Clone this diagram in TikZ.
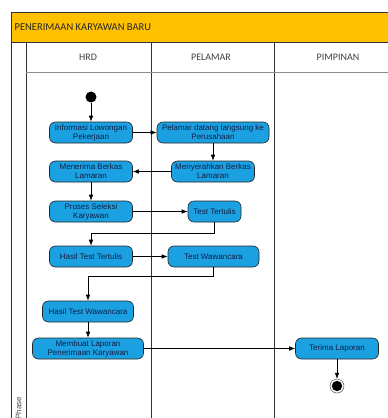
\documentclass[tikz,border=0pt]{standalone}
\usepackage{fontspec}
\setmainfont{Liberation Sans}
\newfontfamily\hdrfont{Carlito}
\usetikzlibrary{arrows,arrows.meta,positioning}
\definecolor{bandorange}{RGB}{255,192,0}
\definecolor{actblue}{RGB}{27,161,226}
\definecolor{actnavy}{RGB}{18,30,68}

\begin{document}
\begin{tikzpicture}[->,>={Latex[length=6pt,width=4.5pt]},x=1pt,y=-1pt,semithick,node distance=39pt,
  act/.style={draw=black!85,fill=actblue,rounded corners=6pt,minimum width=83pt,minimum height=21pt,inner sep=1pt,align=center,text=actnavy,font=\fontsize{8}{9}\selectfont},
  lane/.style={-,draw=black!80,line width=0.7pt},
  hdr/.style={text=black!75,font=\hdrfont\fontsize{10}{12}\selectfont}]
\useasboundingbox (0,0) rectangle (388,418);
\fill[white] (0,0) rectangle (388,418);

% swimlane frame
\fill[bandorange] (11,12) rectangle (395,42);
\draw[lane] (11,12) -- (395,12);
\draw[lane] (11,42) -- (395,42);
\draw[lane] (11,12) -- (11,425);
\draw[lane] (26,42) -- (26,425);
\draw[lane] (151,42) -- (151,425);
\draw[lane] (274,42) -- (274,425);
\draw[lane,draw=black!45] (26,72) -- (395,72);
\node[anchor=west,text=black!85,font=\hdrfont\fontsize{10.5}{12}\selectfont] (title) at (11,27) {PENERIMAAN KARYAWAN BARU};
\node[hdr] (hrd) at (88,57) {HRD};
\node[hdr] (pelamar) at (211,57) {PELAMAR};
\node[hdr] (pimpinan) at (338,57) {PIMPINAN};
\node[rotate=90,text=black!70,font=\fontsize{8}{9}\selectfont] (phase) at (18.5,408) {Phase};

\node[circle,fill=black,minimum size=11pt,inner sep=0pt] (start) at (91,97) {};
\node[act] (n1) [below of=start,node distance=35.5pt] {Informasi Lowongan\\Pekerjaan};
\node[act,minimum width=112pt] (n2) [right of=n1,node distance=122pt] {Pelamar datang langsung ke\\Perusahaan};
\node[act] (n3) [below of=n2] {Menyerahkan Berkas\\Lamaran};
\node[act] (n4) [left of=n3,node distance=122pt] {Menerima Berkas\\Lamaran};
\node[act] (n5) [below of=n4,node distance=40pt] {Proses Seleksi\\Karyawan};
\node[act,minimum width=53pt] (n6) [right of=n5,node distance=123.5pt] {Test Tertulis};
\node[act] (n7) [below of=n5,node distance=45pt] {Hasil Test Tertulis};
\node[act,minimum width=91pt] (n8) [right of=n7,node distance=122.5pt] {Test Wawancara};
\node[act,minimum width=91pt] (n9) [below of=n7,node distance=55pt,xshift=-3pt] {Hasil Test Wawancara};
\node[act,minimum width=111pt] (n10) [below of=n9,node distance=37pt] {Membuat Laporan\\Penerimaan Karyawan};
\node[act] (n11) [right of=n10,node distance=249pt] {Terima Laporan};
\node[circle,draw=black!80,thin,minimum size=14pt,inner sep=0pt,
  path picture={\fill[black] (path picture bounding box.center) circle (5.2pt);}] (end) [below of=n11,node distance=37.5pt] {};

\path (start) edge (n1);
\path (n1) edge (n2);
\path (n2) edge (n3);
\path (n3) edge (n4);
\path (n4) edge (n5);
\path (n5) edge (n6);
\draw (n6.south) -- ++(0,11) -| (n7.north);
\path (n7) edge (n8);
\draw (n8.south) -- ++(0,9) -| (n9.north);
\path (n9) edge (n10);
\path (n10) edge (n11);
\path (n11) edge (end);
\end{tikzpicture}
\end{document}
